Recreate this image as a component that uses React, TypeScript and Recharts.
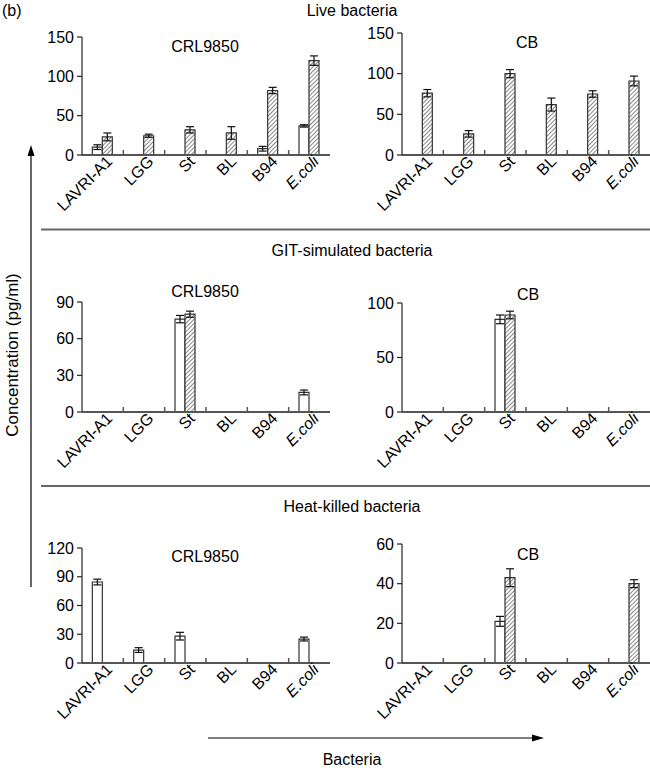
import React from 'react';
import { BarChart, Bar, XAxis, YAxis, ErrorBar } from 'recharts';

const categories = ['LAVRI-A1', 'LGG', 'St', 'BL', 'B94', 'E.coli'];

// Live bacteria
const liveCrlWhite = [10, null, null, null, 8, 37];
const liveCrlWhiteErr = [3, null, null, null, 3, 1.5];
const liveCrlHatched = [23, 24.5, 32, 28, 82, 120];
const liveCrlHatchedErr = [5, 2, 4, 8, 4, 6];
const liveCbWhite = [null, null, null, null, null, null];
const liveCbWhiteErr = [null, null, null, null, null, null];
const liveCbHatched = [76, 26, 100, 62, 75, 91];
const liveCbHatchedErr = [4.5, 4, 5, 8, 4, 6];

// GIT-simulated bacteria
const gitCrlWhite = [null, null, 76, null, null, 16];
const gitCrlWhiteErr = [null, null, 3, null, null, 2];
const gitCrlHatched = [null, null, 80, null, null, null];
const gitCrlHatchedErr = [null, null, 2.5, null, null, null];
const gitCbWhite = [null, null, 85, null, null, null];
const gitCbWhiteErr = [null, null, 4, null, null, null];
const gitCbHatched = [null, null, 89, null, null, null];
const gitCbHatchedErr = [null, null, 3.5, null, null, null];

// Heat-killed bacteria
const heatCrlWhite = [84.5, 13.5, 28, null, null, 25];
const heatCrlWhiteErr = [3, 2.5, 4, null, null, 2];
const heatCrlHatched = [null, null, null, null, null, null];
const heatCrlHatchedErr = [null, null, null, null, null, null];
const heatCbWhite = [null, null, 21, null, null, null];
const heatCbWhiteErr = [null, null, 2.5, null, null, null];
const heatCbHatched = [null, null, 43, null, null, 40];
const heatCbHatchedErr = [null, null, 4.5, null, null, 2];

const liveCrlTicks = [0, 50, 100, 150];
const liveCbTicks = [0, 50, 100, 150];
const gitCrlTicks = [0, 30, 60, 90];
const gitCbTicks = [0, 50, 100];
const heatCrlTicks = [0, 30, 60, 90, 120];
const heatCbTicks = [0, 20, 40, 60];

const FONT = 'Liberation Sans, Arial, Helvetica, sans-serif';
const FS = 16;
const AXIS = '#555';
const INK = '#222';

const build = (w: any[], we: any[], h: any[], he: any[]) =>
  categories.map((name, i) => ({ name, w: w[i], we: we[i], h: h[i], he: he[i] }));

const renderXTick = (props: any) => {
  const { x, y, payload, index, visibleTicksCount } = props;
  const half = payload && payload.offset ? payload.offset : 0;
  const count = visibleTicksCount || categories.length;
  const italic = payload.value === 'E.coli';
  return (
    <g key={`t-${index}`}>
      {index < count - 1 && half ? (
        <line x1={x + half} x2={x + half} y1={y} y2={y - 5} stroke={AXIS} strokeWidth={1.5} />
      ) : null}
      <text
        transform={`translate(${x + 7},${y + 4}) rotate(-45)`}
        x={0}
        y={0}
        dy={5}
        textAnchor="end"
        fontSize={FS}
        fontFamily={FONT}
        fontStyle={italic ? 'italic' : 'normal'}
        fill="#000"
      >
        {payload.value}
      </text>
    </g>
  );
};

type PanelProps = {
  id: string;
  data: any[];
  yMax: number;
  yTicks: number[];
  left: number;
  width: number;
  rightMargin: number;
  plotTop: number;
  plotBottom: number;
};

const Panel = ({ id, data, yMax, yTicks, left, width, rightMargin, plotTop, plotBottom }: PanelProps) => {
  const topMargin = 10;
  const xAxisH = 70;
  const height = topMargin + (plotBottom - plotTop) + xAxisH;
  return (
    <div style={{ position: 'absolute', left, top: plotTop - topMargin, width, height }}>
      <BarChart
        width={width}
        height={height}
        data={data}
        margin={{ top: topMargin, right: rightMargin, left: 0, bottom: 0 }}
        barCategoryGap="25%"
        barGap={0}
      >
        <defs>
          <pattern id={`hatch-${id}`} patternUnits="userSpaceOnUse" width={3} height={3} patternTransform="rotate(45)">
            <rect width={3} height={3} fill="#fff" />
            <line x1={0} y1={0} x2={0} y2={3} stroke="#111" strokeWidth={1} />
          </pattern>
        </defs>
        <XAxis
          dataKey="name"
          interval={0}
          height={xAxisH}
          tickLine={false}
          tickSize={0}
          tickMargin={0}
          axisLine={{ stroke: AXIS, strokeWidth: 2 }}
          tick={renderXTick}
        />
        <YAxis
          width={82}
          domain={[0, yMax]}
          ticks={yTicks}
          interval={0}
          tickSize={5}
          tickMargin={3}
          axisLine={{ stroke: INK, strokeWidth: 1.2 }}
          tickLine={{ stroke: INK, strokeWidth: 1.2 }}
          tick={{ fill: '#000', fontSize: FS, fontFamily: FONT }}
        />
        <Bar dataKey="w" fill="#fff" stroke="#333" strokeWidth={1.2} isAnimationActive={false}>
          <ErrorBar dataKey="we" width={4} stroke="#111" strokeWidth={1.2} direction="y" />
        </Bar>
        <Bar dataKey="h" fill={`url(#hatch-${id})`} stroke="#333" strokeWidth={1.2} isAnimationActive={false}>
          <ErrorBar dataKey="he" width={4} stroke="#111" strokeWidth={1.2} direction="y" />
        </Bar>
      </BarChart>
    </div>
  );
};

const Overlay = () => (
  <svg
    width={650}
    height={768}
    style={{ position: 'absolute', left: 0, top: 0, pointerEvents: 'none' }}
    fontFamily={FONT}
  >
    <text x={2} y={16} fontSize={16} fill="#000">(b)</text>
    <text x={352} y={16} fontSize={16} textAnchor="middle" fill="#000">Live bacteria</text>
    <text x={352} y={256} fontSize={16} textAnchor="middle" fill="#000">GIT-simulated bacteria</text>
    <text x={352} y={512} fontSize={16} textAnchor="middle" fill="#000">Heat-killed bacteria</text>
    <text x={352} y={765} fontSize={16} textAnchor="middle" fill="#000">Bacteria</text>

    <text x={205} y={52} fontSize={16} textAnchor="middle" fill="#000">CRL9850</text>
    <text x={527} y={48} fontSize={16} textAnchor="middle" fill="#000">CB</text>
    <text x={205} y={297} fontSize={16} textAnchor="middle" fill="#000">CRL9850</text>
    <text x={528} y={300} fontSize={16} textAnchor="middle" fill="#000">CB</text>
    <text x={205} y={562} fontSize={16} textAnchor="middle" fill="#000">CRL9850</text>
    <text x={528} y={560} fontSize={16} textAnchor="middle" fill="#000">CB</text>

    <text transform="translate(18,355) rotate(-90)" fontSize={17} textAnchor="middle" fill="#000">
      Concentration (pg/ml)
    </text>

    <line x1={41} y1={229.5} x2={650} y2={229.5} stroke="#666" strokeWidth={2} />
    <line x1={41} y1={486} x2={650} y2={486} stroke="#666" strokeWidth={2} />

    <line x1={31} y1={587} x2={31} y2={152} stroke="#000" strokeWidth={1.2} />
    <polygon points="31,145 27.5,156 34.5,156" fill="#000" />

    <line x1={208} y1={738} x2={536} y2={738} stroke="#000" strokeWidth={1.2} />
    <polygon points="544,738 532,734.5 532,741.5" fill="#000" />
  </svg>
);

export default function App() {
  return (
    <div style={{ position: 'absolute', left: 0, top: 0, width: 650, height: 768, background: '#fff', fontFamily: FONT }}>
      <Panel id="p1" data={build(liveCrlWhite, liveCrlWhiteErr, liveCrlHatched, liveCrlHatchedErr)}
        yMax={150} yTicks={liveCrlTicks} left={0} width={335} rightMargin={5} plotTop={37} plotBottom={155} />
      <Panel id="p2" data={build(liveCbWhite, liveCbWhiteErr, liveCbHatched, liveCbHatchedErr)}
        yMax={150} yTicks={liveCbTicks} left={320} width={330} rightMargin={0} plotTop={33} plotBottom={155} />
      <Panel id="p3" data={build(gitCrlWhite, gitCrlWhiteErr, gitCrlHatched, gitCrlHatchedErr)}
        yMax={90} yTicks={gitCrlTicks} left={0} width={335} rightMargin={5} plotTop={302} plotBottom={412} />
      <Panel id="p4" data={build(gitCbWhite, gitCbWhiteErr, gitCbHatched, gitCbHatchedErr)}
        yMax={100} yTicks={gitCbTicks} left={320} width={330} rightMargin={0} plotTop={303} plotBottom={412} />
      <Panel id="p5" data={build(heatCrlWhite, heatCrlWhiteErr, heatCrlHatched, heatCrlHatchedErr)}
        yMax={120} yTicks={heatCrlTicks} left={0} width={335} rightMargin={5} plotTop={548} plotBottom={663} />
      <Panel id="p6" data={build(heatCbWhite, heatCbWhiteErr, heatCbHatched, heatCbHatchedErr)}
        yMax={60} yTicks={heatCbTicks} left={320} width={330} rightMargin={0} plotTop={544} plotBottom={663} />
      <Overlay />
    </div>
  );
}
